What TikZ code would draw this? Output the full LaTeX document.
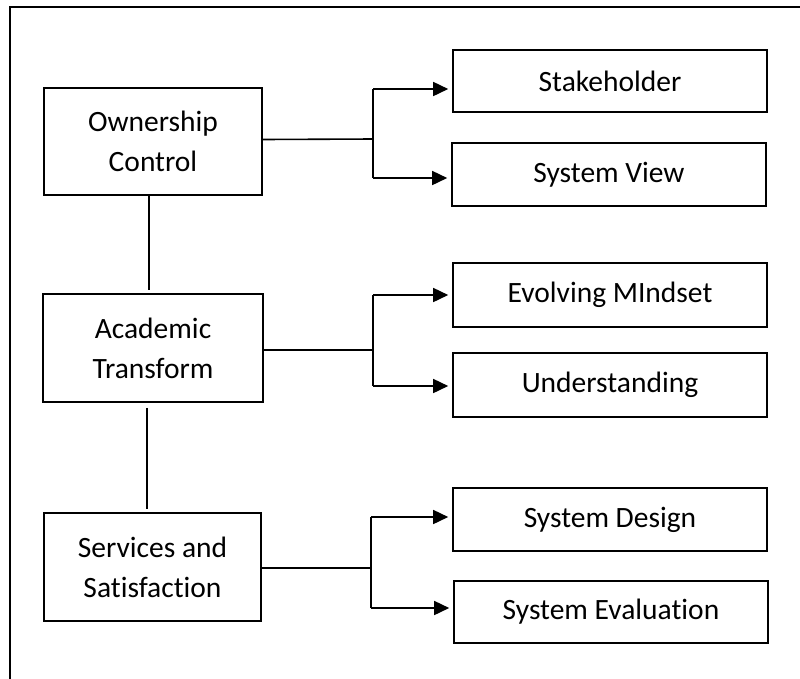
\documentclass[tikz,border=0pt]{standalone}
\usepackage{fontspec}
\setmainfont[Ligatures=NoCommon]{Carlito}
\usetikzlibrary{arrows.meta}
\begin{document}
\begin{tikzpicture}[x=1pt,y=-1pt,
  conn/.style={draw=black,line width=1.6pt},
  arr/.style={conn,-{Triangle[length=15pt,width=14pt]},shorten >=4pt},
  box/.style={draw=black,line width=1.6pt,rectangle,inner sep=0pt,align=center,
    font=\fontsize{29.5}{40}\selectfont},
  leftbox/.style={box,minimum width=218pt,minimum height=107pt},
  rightbox/.style={box,minimum width=314pt,minimum height=63pt}]
\useasboundingbox (0,0) rectangle (800,678);
% outer frame
\draw[conn] (10,690) -- (10,7) -- (810,7);
% left boxes
\node[leftbox] (own) at (153,141.5) {Ownership\\Control};
\node[leftbox,minimum width=220pt,minimum height=108pt] (acad) at (153,348) {Academic\\Transform};
\node[leftbox,minimum width=217pt,minimum height=108pt] (serv) at (152.5,567) {Services and\\Satisfaction};
% right boxes
\node[rightbox,minimum height=62pt] (stake) at (610,81) {Stakeholder};
\node[rightbox] (sysview) at (609,174.5) {System View};
\node[rightbox,minimum height=64pt] (evolve) at (610,295) {Evolving MIndset};
\node[rightbox,minimum height=64pt] (under) at (610,385) {Understanding};
\node[rightbox] (design) at (610,519.5) {System Design};
\node[rightbox,minimum height=62pt] (eval) at (611,612) {System Evaluation};
% vertical links between left boxes
\draw[conn] ([xshift=-4pt]own.south) -- ([xshift=-4pt,yshift=3pt]acad.north);
\draw[conn] ([xshift=-6pt,yshift=-5pt]acad.south) -- ([xshift=-5.5pt,yshift=3pt]serv.north);
% branch 1
\coordinate (j1) at (373,139);
\coordinate (j1t) at (373,89);
\coordinate (j1b) at (373,178);
\draw[conn] ([yshift=2pt]own.east) -- (j1);
\draw[conn] (j1t) -- (j1b);
\draw[arr] (j1t) -- (j1t -| stake.west);
\draw[arr] (j1b) -- (j1b -| sysview.west);
% branch 2
\coordinate (j2) at (373,350);
\coordinate (j2t) at (373,295);
\coordinate (j2b) at (373,386);
\draw[conn] ([yshift=-2pt]acad.east) -- (j2);
\draw[conn] (j2t) -- (j2b);
\draw[arr] (j2t) -- (j2t -| evolve.west);
\draw[arr] (j2b) -- (j2b -| under.west);
% branch 3
\coordinate (j3) at (371,568);
\coordinate (j3t) at (371,517);
\coordinate (j3b) at (371,608);
\draw[conn] ([yshift=-1pt]serv.east) -- (j3);
\draw[conn] (j3t) -- (j3b);
\draw[arr] (j3t) -- (j3t -| design.west);
\draw[arr] (j3b) -- (j3b -| eval.west);
\end{tikzpicture}
\end{document}
